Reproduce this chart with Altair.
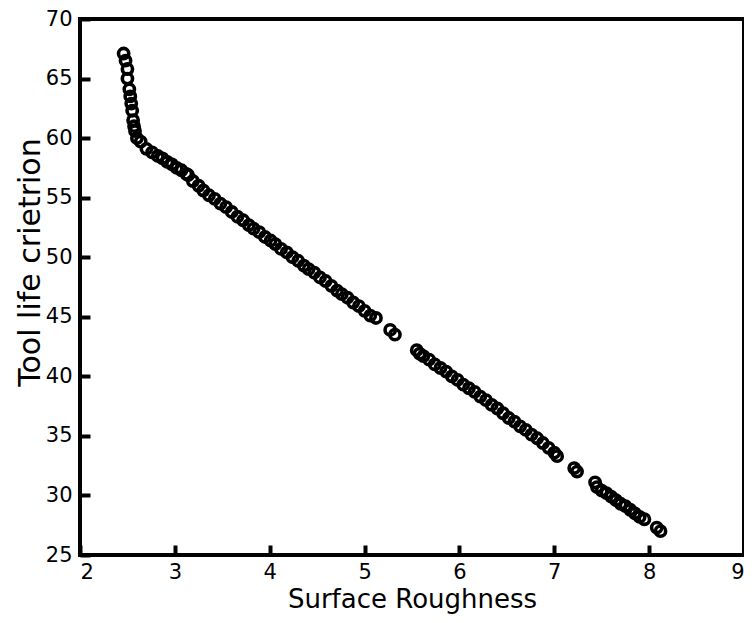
import altair as alt
import pandas as pd

# Surface roughness (x) and tool life criterion (y)
roughness = [
    2.46, 2.48, 2.50, 2.50, 2.52, 2.53, 2.54, 2.55, 2.56, 2.57, 2.58, 2.60,
    2.64, 2.70, 2.76, 2.82, 2.87, 2.92, 2.97, 3.02, 3.07, 3.12, 3.14, 3.19,
    3.25, 3.30, 3.36, 3.42, 3.48, 3.54, 3.60, 3.66, 3.72, 3.78, 3.83, 3.89,
    3.95, 4.01, 4.06, 4.12, 4.18, 4.24, 4.30, 4.36, 4.41, 4.47, 4.53, 4.59,
    4.65, 4.71, 4.76, 4.82, 4.88, 4.94, 5.00, 5.06, 5.12, 5.27, 5.32, 5.55,
    5.58, 5.62, 5.68, 5.74, 5.80, 5.86, 5.92, 5.98, 6.04, 6.10, 6.16, 6.22,
    6.28, 6.34, 6.40, 6.46, 6.52, 6.58, 6.64, 6.70, 6.76, 6.82, 6.88, 6.94,
    7.00, 7.03, 7.21, 7.24, 7.43, 7.45, 7.50, 7.55, 7.60, 7.65, 7.70, 7.75,
    7.80, 7.85, 7.90, 7.95, 8.08, 8.12,
]
tool_life = [
    67.1, 66.5, 65.8, 65.0, 64.1, 63.5, 62.9, 62.3, 61.5, 61.0, 60.6, 60.0,
    59.7, 59.1, 58.8, 58.5, 58.3, 58.0, 57.8, 57.5, 57.3, 57.0, 56.9, 56.4,
    56.0, 55.6, 55.2, 54.9, 54.5, 54.2, 53.8, 53.4, 53.1, 52.7, 52.4, 52.1,
    51.7, 51.4, 51.1, 50.7, 50.4, 50.0, 49.7, 49.3, 49.0, 48.7, 48.3, 48.0,
    47.6, 47.2, 46.9, 46.6, 46.2, 45.9, 45.5, 45.1, 44.9, 43.9, 43.5, 42.2,
    41.9, 41.7, 41.4, 41.0, 40.7, 40.4, 40.0, 39.7, 39.3, 39.0, 38.7, 38.3,
    38.0, 37.6, 37.3, 36.9, 36.5, 36.2, 35.8, 35.5, 35.1, 34.8, 34.4, 34.0,
    33.6, 33.3, 32.3, 32.0, 31.1, 30.7, 30.4, 30.2, 29.9, 29.6, 29.3, 29.1,
    28.8, 28.5, 28.2, 28.0, 27.3, 27.0,
]

x_ticks = [2, 3, 4, 5, 6, 7, 8, 9]
y_ticks = [25, 30, 35, 40, 45, 50, 55, 60, 65, 70]

df = pd.DataFrame({"x": roughness, "y": tool_life})

W, H = 664, 536
TICK = 10
LABEL_FONT = "DejaVu Sans"
TITLE_FONT = "DejaVu Sans"

x_scale = alt.Scale(domain=[2, 9], nice=False, zero=False)
y_scale = alt.Scale(domain=[25, 70], nice=False, zero=False)

# The axis groups are shifted by TICK px (translate moves both x and y),
# so the ticks point into the plot; tickOffset / titleX / titleY undo the
# shift along the axis.
x_axis = alt.Axis(
    orient="bottom",
    values=x_ticks,
    title="Surface Roughness",
    titleFont=TITLE_FONT,
    titleFontSize=26,
    titleFontWeight="normal",
    titleColor="black",
    titlePadding=4,
    titleX=W / 2 + TICK,
    labelFont=LABEL_FONT,
    labelFontSize=21,
    labelColor="black",
    labelPadding=6,
    ticks=True,
    tickSize=TICK,
    tickWidth=4,
    tickColor="black",
    translate=0.5 - TICK,
    tickOffset=TICK,
    domain=False,
    grid=False,
)
y_axis = alt.Axis(
    orient="left",
    values=y_ticks,
    title="Tool life crietrion",
    titleFont=TITLE_FONT,
    titleFontSize=30,
    titleFontWeight="normal",
    titleColor="black",
    titlePadding=0,
    titleY=243 - TICK,
    labelFont=LABEL_FONT,
    labelFontSize=21,
    labelColor="black",
    labelPadding=8,
    ticks=True,
    tickSize=TICK,
    tickWidth=4,
    tickColor="black",
    translate=0.5 + TICK,
    tickOffset=-TICK,
    domain=False,
    grid=False,
)

chart = (
    alt.Chart(df)
    .mark_point(
        shape="circle", filled=False, stroke="black", strokeWidth=3.6, size=105, opacity=1
    )
    .encode(
        x=alt.X("x:Q", scale=x_scale, axis=x_axis),
        y=alt.Y("y:Q", scale=y_scale, axis=y_axis),
    )
    .properties(
        width=W,
        height=H,
        autosize=alt.AutoSizeParams(type="none"),
        padding={"left": 72, "top": 11, "right": 0, "bottom": 62},
        background="white",
    )
    .configure_view(stroke="black", strokeWidth=4)
)

chart.save("out.html", embed_options={"renderer": "svg", "actions": False})
